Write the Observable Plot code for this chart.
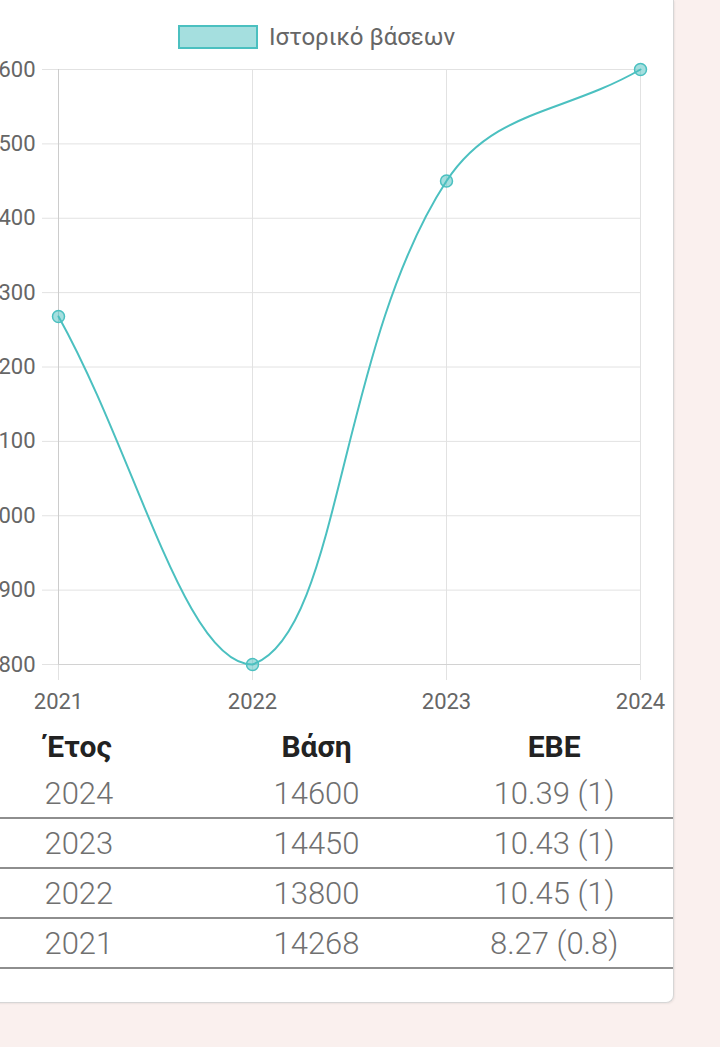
<!DOCTYPE html>
<html>
<head>
<meta charset="utf-8">
<script src="https://cdn.jsdelivr.net/npm/d3@7"></script>
<script src="https://cdn.jsdelivr.net/npm/@observablehq/plot@0.6"></script>
<style>
  html, body { margin: 0; padding: 0; background: #faf0ee; width: 720px; height: 1047px; overflow: hidden; font-family: Roboto, "Noto Sans", sans-serif; }
  #card { position: absolute; left: -40px; top: 0; width: 714px; box-sizing: border-box; background: #fff;
          border-right: 1px solid #d6d6d6; border-bottom: 1px solid #d6d6d6; border-bottom-right-radius: 8px;
          box-shadow: 1px 1px 2px rgba(0,0,0,0.06); padding-bottom: 33px; }
  #legend { height: 59px; box-sizing: border-box; padding-top: 25px; display: flex; align-items: flex-start; justify-content: center; gap: 11px; }
  #legend .sw { width: 76px; height: 20px; background: rgba(75,192,192,0.5); border: 2px solid rgb(75,192,192); }
  #legend .lb { font-size: 24px; line-height: 24px; color: #666; }
  #chart svg { display: block; }
  table { width: 713px; border-collapse: collapse; table-layout: fixed; }
  th { font-size: 30px; font-weight: 700; color: #222; height: 45px; padding: 0; text-align: center; }
  td { font-size: 31px; font-weight: 300; color: #707070; height: 48px; padding: 0; text-align: center; border-bottom: 2px solid #8e8e8e; }
</style>
</head>
<body>
<div id="card">
  <div id="legend"><div class="sw"></div><div class="lb" id="legendLabel"></div></div>
  <div id="chart"></div>
  <table id="tbl"></table>
</div>
<script>
// ---- data ----
const seriesLabel = "Ιστορικό βάσεων";
const years = [2021, 2022, 2023, 2024];
const bases = [14268, 13800, 14450, 14600];
const ebe = ["8.27 (0.8)", "10.45 (1)", "10.43 (1)", "10.39 (1)"];
const yTicks = [13800, 13900, 14000, 14100, 14200, 14300, 14400, 14500, 14600];
const tableHeaders = ["Έτος", "Βάση", "EBE"];

const data = years.map((year, i) => ({year, base: bases[i], ebe: ebe[i]}));

// Chart.js style bezier spline (tension 0.4) with control points capped to the data area
function chartjsCurve(context) {
  let pts = [];
  return {
    areaStart() {}, areaEnd() {},
    lineStart() { pts = []; },
    point(x, y) { pts.push([+x, +y]); },
    lineEnd() {
      const n = pts.length;
      if (!n) return;
      const t = 0.4;
      const xs = pts.map(p => p[0]), ys = pts.map(p => p[1]);
      const minX = Math.min(...xs), maxX = Math.max(...xs), minY = Math.min(...ys), maxY = Math.max(...ys);
      const cap = (p) => [Math.max(minX, Math.min(maxX, p[0])), Math.max(minY, Math.min(maxY, p[1]))];
      const prevCP = [], nextCP = [];
      for (let i = 0; i < n; i++) {
        const cur = pts[i];
        const prev = i > 0 ? pts[i - 1] : cur;
        const next = i < n - 1 ? pts[i + 1] : cur;
        const d01 = Math.hypot(cur[0] - prev[0], cur[1] - prev[1]);
        const d12 = Math.hypot(next[0] - cur[0], next[1] - cur[1]);
        let s01 = d01 / (d01 + d12), s12 = d12 / (d01 + d12);
        if (!isFinite(s01)) s01 = 0;
        if (!isFinite(s12)) s12 = 0;
        const fa = t * s01, fb = t * s12;
        prevCP[i] = cap([cur[0] - fa * (next[0] - prev[0]), cur[1] - fa * (next[1] - prev[1])]);
        nextCP[i] = cap([cur[0] + fb * (next[0] - prev[0]), cur[1] + fb * (next[1] - prev[1])]);
      }
      context.moveTo(pts[0][0], pts[0][1]);
      for (let i = 1; i < n; i++) {
        context.bezierCurveTo(nextCP[i - 1][0], nextCP[i - 1][1], prevCP[i][0], prevCP[i][1], pts[i][0], pts[i][1]);
      }
    }
  };
}

const teal = "rgb(75,192,192)";
const grid = "#e2e2e2";

document.getElementById("legendLabel").textContent = seriesLabel;

const plot = Plot.plot({
  width: 713,
  height: 665,
  marginLeft: 98,
  marginRight: 33,
  marginTop: 10,
  marginBottom: 60,
  style: {fontFamily: "Roboto, 'Noto Sans', sans-serif", fontSize: "22px", background: "transparent", overflow: "visible"},
  x: {domain: d3.extent(years)},
  y: {domain: d3.extent(yTicks)},
  marks: [
    Plot.gridY(yTicks, {stroke: grid, strokeOpacity: 1}),
    Plot.gridX(years, {stroke: grid, strokeOpacity: 1}),
    Plot.axisY(yTicks, {tickSize: 16, tickPadding: 7, stroke: grid, fill: "#666", fontSize: 22, tickFormat: d => String(d), label: null}),
    Plot.axisX(years, {tickSize: 16, tickPadding: 13, stroke: grid, fill: "#666", fontSize: 22, tickFormat: d => String(d), label: null}),
    Plot.ruleX([years[0]], {stroke: "#cccccc"}),
    Plot.ruleY([yTicks[0]], {stroke: "#d2d2d2"}),
    Plot.line(data, {x: "year", y: "base", curve: chartjsCurve, stroke: teal, strokeWidth: 2}),
    Plot.dot(data, {x: "year", y: "base", r: 6, fill: "rgba(75,192,192,0.5)", stroke: teal, strokeWidth: 1.5})
  ]
});
document.getElementById("chart").appendChild(plot);

// table (latest first)
const tbl = document.getElementById("tbl");
const thead = document.createElement("tr");
tableHeaders.forEach(h => { const th = document.createElement("th"); th.textContent = h; thead.appendChild(th); });
tbl.appendChild(thead);
data.slice().reverse().forEach(d => {
  const tr = document.createElement("tr");
  [String(d.year), String(d.base), d.ebe].forEach(v => { const td = document.createElement("td"); td.textContent = v; tr.appendChild(td); });
  tbl.appendChild(tr);
});
</script>
</body>
</html>
